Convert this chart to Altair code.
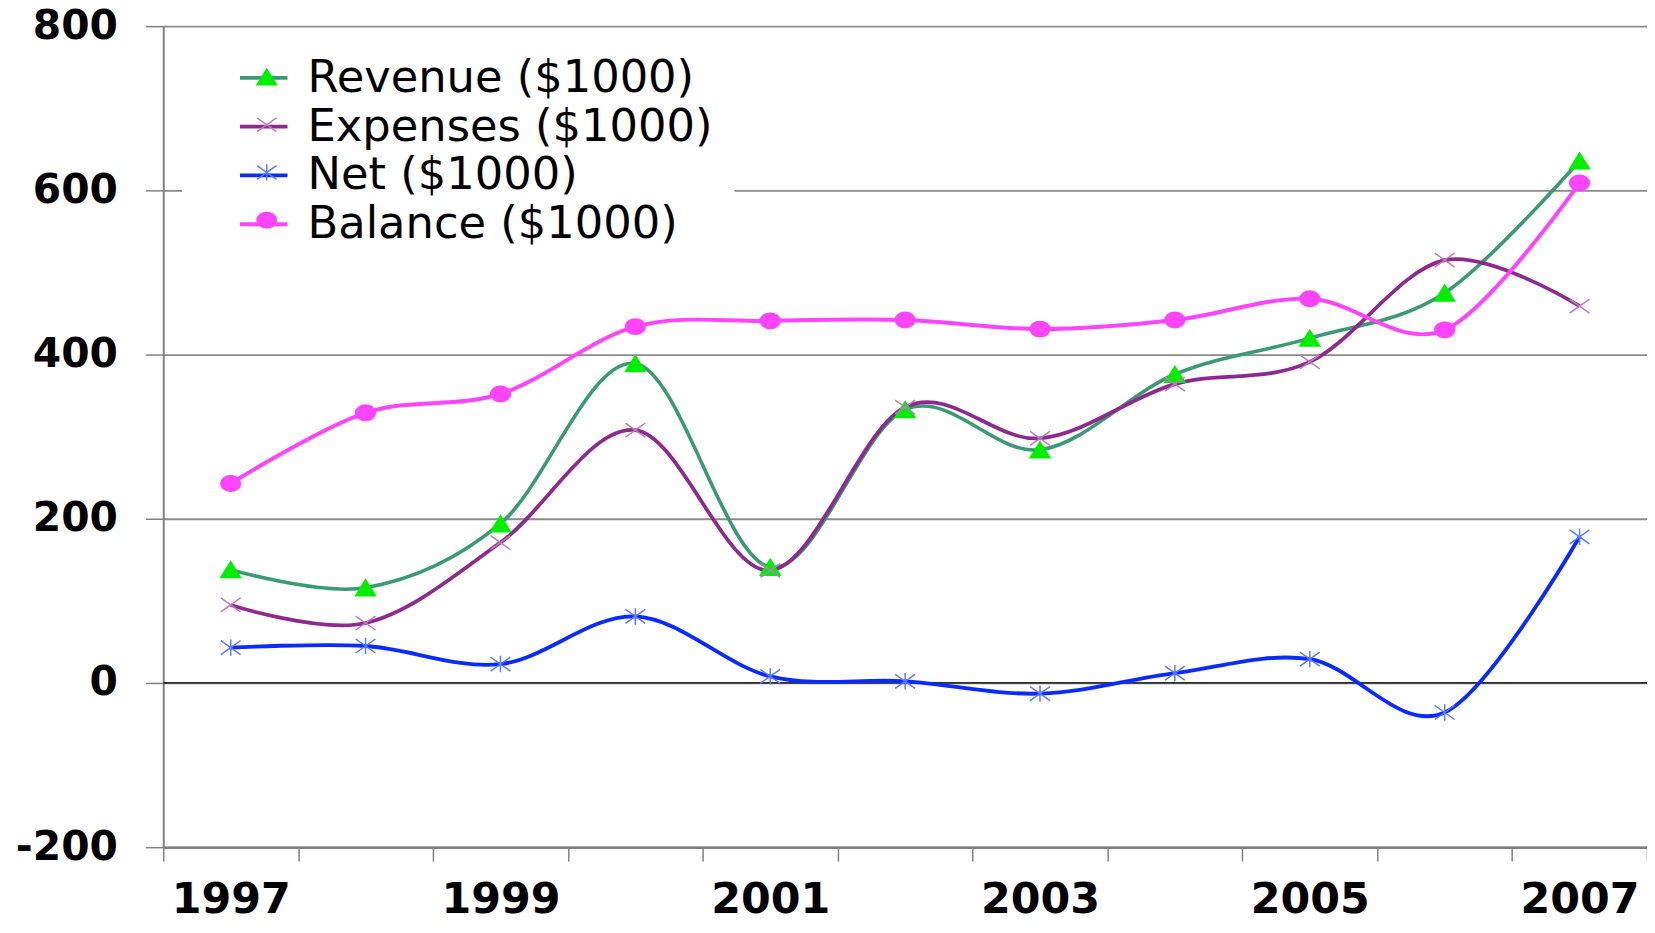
import altair as alt
import pandas as pd

years = list(range(1997, 2008))
series = ["Revenue ($1000)", "Expenses ($1000)", "Net ($1000)", "Balance ($1000)"]
revenue = [138, 116, 194, 389, 141, 333, 284, 376, 420, 475, 636]
expenses = [95, 73, 171, 308, 137, 336, 298, 364, 391, 515, 459]
net = [43, 45, 23, 81, 8, 2, -13, 12, 29, -36, 178]
balance = [243, 329, 352, 434, 441, 442, 431, 442, 468, 430, 609]

line_colors = ["#3A9A74", "#8E2A8E", "#0A2BFF", "#FF44FF"]
line_widths = [3.6, 4, 4.5, 3.6]
marker_fill = ["#00EE00", "transparent", "transparent", "#FF44FF"]
marker_stroke = ["#00EE00", "#C07AC0", "#5D79FF", "#FF44FF"]
marker_shapes = [
    "M0,-0.33L0.41,0.33L-0.41,0.33Z",
    "M-0.41,-0.29L0.41,0.29M-0.41,0.29L0.41,-0.29",
    "M-0.41,-0.29L0.41,0.29M-0.41,0.29L0.41,-0.29M0,-0.34L0,0.34",
    "M-0.41,0A0.41,0.32 0 1,0 0.41,0A0.41,0.32 0 1,0 -0.41,0Z",
]
y_ticks = [-200, 0, 200, 400, 600, 800]
x_ticks = [y - 0.5 for y in years] + [2007.5]

# marker layer uses its own category keys so its legend stays separate
series_m = [s + " m" for s in series]

rows = []
for name, name_m, vals in zip(series, series_m, [revenue, expenses, net, balance]):
    for yr, v in zip(years, vals):
        rows.append({"year": yr, "value": v, "series": name, "series_m": name_m})
df = pd.DataFrame(rows)
zero_df = pd.DataFrame({"zero": [0]})

FONT = "DejaVu Sans"
W, H = 1491, 825
band = W / len(years)

x_enc = alt.X(
    "year:Q",
    scale=alt.Scale(domain=[1996.5, 2007.5], nice=False, zero=False),
    axis=alt.Axis(
        values=x_ticks,
        labelExpr="((datum.value + 0.5) % 2 == 1) ? ('' + (datum.value + 0.5)) : ''",
        labelOffset=band / 2,
        labelFlush=False,
        labelOverlap=False,
        tickSize=14,
        tickColor="#808080",
        tickWidth=1.5,
        labelPadding=18,
        labelFont=FONT,
        labelFontSize=43,
        labelFontWeight="bold",
        labelColor="black",
        domainColor="#808080",
        domainWidth=2.5,
        grid=False,
        title=None,
    ),
)
y_enc = alt.Y(
    "value:Q",
    scale=alt.Scale(domain=[-200, 800], nice=False, zero=False),
    axis=alt.Axis(
        values=y_ticks,
        labelExpr="'' + datum.value",
        tickSize=18,
        tickColor="#808080",
        tickWidth=1.5,
        labelPadding=28,
        labelFont=FONT,
        labelFontSize=41,
        labelFontWeight="bold",
        labelColor="black",
        domainColor="#808080",
        domainWidth=2,
        grid=True,
        gridColor="#8A8A8A",
        gridWidth=1.8,
        title=None,
    ),
)

zero_rule = alt.Chart(zero_df).mark_rule(color="black", strokeWidth=1.3).encode(
    y=alt.Y("zero:Q", scale=alt.Scale(domain=[-200, 800], nice=False))
)

legend_common = dict(
    orient="none",
    legendX=19,
    legendY=4,
    padding=22,
    symbolSize=2280,
    labelFont=FONT,
    labelFontSize=45,
    labelColor="black",
    labelLimit=900,
    rowPadding=0,
    title=None,
)

lines = alt.Chart(df).mark_line(interpolate="cardinal", tension=0).encode(
    x=x_enc,
    y=y_enc,
    color=alt.Color(
        "series:N",
        scale=alt.Scale(domain=series, range=line_colors),
        legend=alt.Legend(
            fillColor="white",
            symbolType="stroke",
            symbolStrokeWidth=4,
            symbolOffset=34,
            labelOffset=18,
            **legend_common,
        ),
    ),
    strokeWidth=alt.StrokeWidth(
        "series:N", scale=alt.Scale(domain=series, range=line_widths), legend=None
    ),
)

mk_legend = dict(
    labelExpr="''",
    symbolStrokeWidth=1.5,
    symbolOffset=38,
    labelOffset=18,
    zindex=2,
    **legend_common,
)

points = alt.Chart(df).mark_point(size=2350, strokeWidth=1.5, opacity=1).encode(
    x=alt.X("year:Q"),
    y=alt.Y("value:Q"),
    shape=alt.Shape(
        "series_m:N",
        scale=alt.Scale(domain=series_m, range=marker_shapes),
        legend=alt.Legend(**mk_legend),
    ),
    fill=alt.Fill(
        "series_m:N",
        scale=alt.Scale(domain=series_m, range=marker_fill),
        legend=alt.Legend(**mk_legend),
    ),
    stroke=alt.Stroke(
        "series_m:N",
        scale=alt.Scale(domain=series_m, range=marker_stroke),
        legend=alt.Legend(**mk_legend),
    ),
)

chart = (
    alt.layer(zero_rule, lines, points)
    .properties(
        width=W,
        height=H,
        padding={"left": 156, "top": 16, "right": 0, "bottom": 76},
        autosize=alt.AutoSizeParams(type="none"),
        background="white",
    )
    .configure_view(stroke=None)
)

chart.save("out.html", embed_options={"renderer": "svg", "actions": False})
